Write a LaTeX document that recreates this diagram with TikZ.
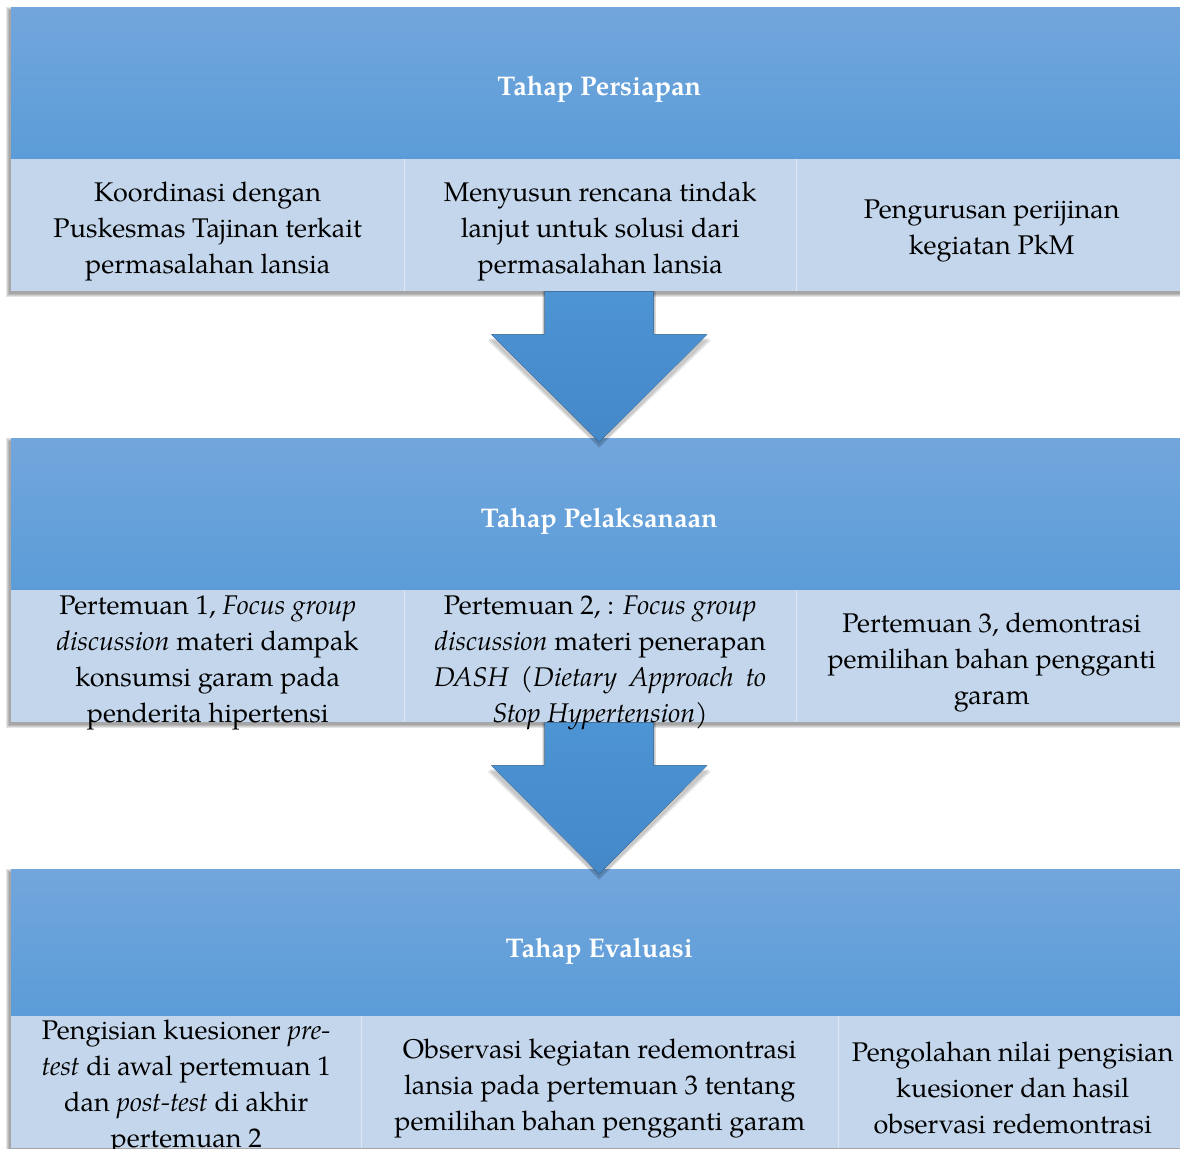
\documentclass[tikz,border=0pt]{standalone}
\usepackage{fontspec}
\setmainfont{texgyrepagella}[Extension=.otf,UprightFont=*-regular,BoldFont=*-bold,ItalicFont=*-italic,BoldItalicFont=*-bolditalic]
\usetikzlibrary{calc}
\definecolor{hdrtop}{RGB}{114,166,220}
\definecolor{hdrbot}{RGB}{91,156,216}
\definecolor{rowfill}{RGB}{196,214,235}
\definecolor{arrtop}{RGB}{77,148,213}
\definecolor{arrbot}{RGB}{68,136,200}
\newcommand\myshadow[4]{%
  \foreach \r in {3,2,1,0}{%
    \fill[black,opacity=0.1] (#1-2-\r,#2+3-\r) rectangle (#3+\r,#4+3+\r);}}
\begin{document}
\begin{tikzpicture}[x=1pt,y=-1pt,
  hdr/.style={rectangle, anchor=north west, minimum width=1176pt, inner sep=0pt,
    top color=hdrtop, bottom color=hdrbot, draw=none},
  htxt/.style={text=white, inner sep=0pt, font=\fontsize{27}{32}\selectfont\bfseries},
  cell/.style={rectangle, anchor=north west, minimum height=132pt, inner sep=0pt,
    fill=rowfill, draw=none},
  txt/.style={align=center, inner sep=0pt, font=\fontsize{27}{36}\selectfont},
  flow/.style={top color=arrtop, bottom color=arrbot, draw=none},
  sep/.style={draw=white, opacity=0.45, line width=1.5pt},
]
\useasboundingbox (0,0) rectangle (1180,1148);
\clip (0,0) rectangle (1180,1148);

% shadows
\myshadow{11}{7}{1187}{291}
\myshadow{11}{438}{1187}{722}
\myshadow{11}{869}{1187}{1148}

% box 1
\node[hdr, minimum height=152pt] (h1) at (11,7) {};
\node[cell, minimum width=393pt] (c11) at (11,159) {};
\node[cell, minimum width=392pt] (c12) at (404,159) {};
\node[cell, minimum width=391pt] (c13) at (796,159) {};
% box 2
\node[hdr, minimum height=152pt] (h2) at (11,438) {};
\node[cell, minimum width=393pt] (c21) at (11,590) {};
\node[cell, minimum width=392pt] (c22) at (404,590) {};
\node[cell, minimum width=391pt] (c23) at (796,590) {};
% box 3
\node[hdr, minimum height=147pt] (h3) at (11,869) {};
\node[cell, minimum width=350pt] (c31) at (11,1016) {};
\node[cell, minimum width=477pt] (c32) at (361,1016) {};
\node[cell, minimum width=349pt] (c33) at (838,1016) {};

% separators
\draw[sep] (c11.north east) -- (c11.south east);
\draw[sep] (c12.north east) -- (c12.south east);
\draw[sep] (c21.north east) -- (c21.south east);
\draw[sep] (c22.north east) -- (c22.south east);
\draw[sep] (c31.north east) -- (c31.south east);
\draw[sep] (c32.north east) -- (c32.south east);

% arrows
\coordinate (a1s) at (h1.center |- c12.south);
\coordinate (a1t) at ($(h2.north)+(0,4)$);
\coordinate (a2s) at (h2.center |- c22.south);
\coordinate (a2t) at ($(h3.north)+(0,5)$);
\foreach \r in {3,2,1}{
  \fill[black,opacity=0.08] ($(a1s)+(-56.5,0)$) -- ($(a1s)+(-56.5,46+\r)$) -- ($(a1s)+(-109-\r,46+\r)$) -- ($(a1t)+(0,3+\r)$) -- ($(a1s)+(109+\r,46+\r)$) -- ($(a1s)+(56.5,46+\r)$) -- ($(a1s)+(56.5,0)$) -- cycle;
  \fill[black,opacity=0.08] ($(a2s)+(-56.5,0)$) -- ($(a2s)+(-56.5,46+\r)$) -- ($(a2s)+(-109-\r,46+\r)$) -- ($(a2t)+(0,3+\r)$) -- ($(a2s)+(109+\r,46+\r)$) -- ($(a2s)+(56.5,46+\r)$) -- ($(a2s)+(56.5,0)$) -- cycle;
}
\fill[flow] ($(a1s)+(-54.5,0)$) -- ($(a1s)+(-54.5,43)$) -- ($(a1s)+(-108,43)$) -- (a1t) -- ($(a1s)+(108,43)$) -- ($(a1s)+(54.5,43)$) -- ($(a1s)+(54.5,0)$) -- cycle;
\fill[flow] ($(a2s)+(-54.5,0)$) -- ($(a2s)+(-54.5,43)$) -- ($(a2s)+(-108,43)$) -- (a2t) -- ($(a2s)+(108,43)$) -- ($(a2s)+(54.5,43)$) -- ($(a2s)+(54.5,0)$) -- cycle;

% texts
\node[htxt] (th1) at ($(h1.center)+(0,6)$) {Tahap Persiapan};
\node[htxt] (th2) at ($(h2.center)+(0,7)$) {Tahap Pelaksanaan};
\node[htxt] (th3) at ($(h3.center)+(0,9)$) {Tahap Evaluasi};

\node[txt] (t11) at ($(c11)+(0,6)$) {Koordinasi dengan\\Puskesmas Tajinan terkait\\permasalahan lansia};
\node[txt] (t12) at ($(c12)+(0,6)$) {Menyusun rencana tindak\\lanjut untuk solusi dari\\permasalahan lansia};
\node[txt] (t13) at ($(c13)+(0,6)$) {Pengurusan perijinan\\kegiatan PkM};

\node[txt] (t21) at ($(c21)+(0,7)$) {Pertemuan 1, \textit{Focus group}\\\textit{discussion} materi dampak\\konsumsi garam pada\\penderita hipertensi};
\node[txt] (t22) at ($(c22)+(0,7)$) {Pertemuan 2, : \textit{Focus group}\\\textit{discussion} materi penerapan\\\makebox[332pt][s]{\itshape DASH (Dietary Approach to}\\\textit{Stop Hypertension)}};
\node[txt] (t23) at ($(c23)+(0,6)$) {Pertemuan 3, demontrasi\\pemilihan bahan pengganti\\garam};

\node[txt] (t31) at ($(c31)+(0,5)$) {Pengisian kuesioner \textit{pre-}\\\textit{test} di awal pertemuan 1\\dan \textit{post-test} di akhir\\pertemuan 2};
\node[txt] (t32) at ($(c32)+(0,6)$) {Observasi kegiatan redemontrasi\\lansia pada pertemuan 3 tentang\\pemilihan bahan pengganti garam};
\node[txt] (t33) at ($(c33)+(0,6)$) {Pengolahan nilai pengisian\\kuesioner dan hasil\\observasi redemontrasi};
\end{tikzpicture}
\end{document}
